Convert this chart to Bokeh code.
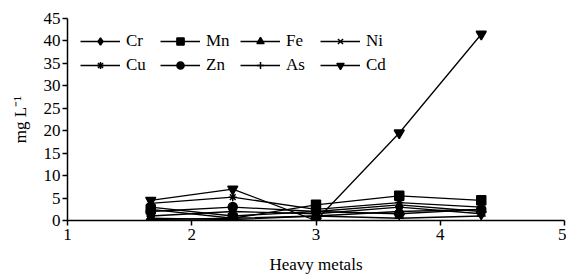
from bokeh.plotting import figure
from bokeh.embed import file_html
from bokeh.resources import INLINE
from bokeh.models import Range1d, FixedTicker, Legend

x_pos = [1.67, 2.33, 3.0, 3.67, 4.33]
Cr = [1.0, 2.0, 1.5, 3.0, 1.5]
Mn = [2.5, 0.5, 3.5, 5.5, 4.5]
Fe = [0.5, 0.2, 1.0, 2.0, 2.5]
Ni = [3.0, 1.0, 2.0, 3.5, 2.0]
Cu = [3.8, 5.2, 2.5, 4.0, 3.0]
Zn = [2.0, 3.0, 2.0, 1.5, 2.5]
As = [0.2, 0.5, 1.0, 0.5, 1.0]
Cd = [4.5, 7.0, 0.0, 19.5, 41.5]

series = [
    ("Cr", Cr, "diamond", 11),
    ("Mn", Mn, "square", 9),
    ("Fe", Fe, "triangle", 10),
    ("Ni", Ni, "x", 8),
    ("Cu", Cu, "asterisk", 8),
    ("Zn", Zn, "circle", 9),
    ("As", As, "cross", 9),
    ("Cd", Cd, "inverted_triangle", 10),
]
# legend laid out row-major in 2 rows x 4 columns
legend_order = ["Cr", "Cu", "Mn", "Zn", "Fe", "As", "Ni", "Cd"]

FONT = "Liberation Serif"

p = figure(width=566, height=280, output_backend="svg", toolbar_location=None,
           x_range=Range1d(1, 5), y_range=Range1d(0, 45),
           min_border_left=67, min_border_right=2, min_border_top=18, min_border_bottom=60)
p.outline_line_color = None
p.xgrid.visible = False
p.ygrid.visible = False
p.background_fill_color = "white"

rmap = {}
for name, vals, marker, size in series:
    r1 = p.line(x_pos, vals, line_color="black", line_width=1.3)
    r2 = p.scatter(x_pos, vals, marker=marker, size=size, fill_color="black",
                   line_color="black", line_width=1.5)
    rmap[name] = [r1, r2]
items = [(n, rmap[n]) for n in legend_order]

legend = Legend(items=items, ncols=4, location="top_left")
legend.border_line_color = None
legend.background_fill_alpha = 0
legend.label_text_font = FONT
legend.label_text_font_size = "17px"
legend.label_text_color = "black"
legend.glyph_width = 40
legend.glyph_height = 18
legend.label_width = 30
legend.label_height = 18
legend.spacing = 4
legend.padding = 2
legend.margin = 13
legend.label_standoff = 6
p.add_layout(legend)

for ax in (p.xaxis[0], p.yaxis[0]):
    ax.axis_line_width = 1.5
    ax.major_tick_line_width = 1.5
    ax.major_tick_in = 0
    ax.major_tick_out = 5
    ax.minor_tick_line_color = None
    ax.major_label_text_font = FONT
    ax.major_label_text_font_size = "17px"
    ax.axis_label_text_font = FONT
    ax.axis_label_text_font_size = "17px"
    ax.axis_label_text_font_style = "normal"
    ax.major_label_text_color = "black"
    ax.axis_label_text_color = "black"
    ax.axis_line_color = "black"
    ax.major_tick_line_color = "black"

p.xaxis.ticker = FixedTicker(ticks=[1, 2, 3, 4, 5])
p.yaxis.ticker = FixedTicker(ticks=list(range(0, 50, 5)))
p.xaxis.axis_label = "Heavy metals"
p.yaxis.axis_label = "mg L\u207b\u00b9"
p.xaxis.axis_label_standoff = 12
p.yaxis.axis_label_standoff = 11
p.yaxis.major_label_standoff = 2
p.xaxis.major_label_standoff = 3

open("out.html", "w").write(file_html(p, INLINE))
